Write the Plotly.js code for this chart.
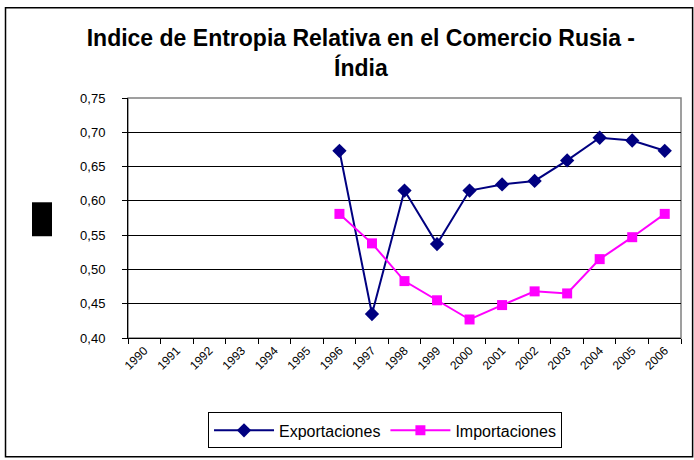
<!DOCTYPE html>
<html>
<head>
<meta charset="utf-8">
<script src="https://cdn.plot.ly/plotly-3.0.1.min.js"></script>
<style>html,body{margin:0;padding:0;background:#fff;}#chart{width:694px;height:460px;}</style>
</head>
<body>
<div id="chart"></div>
<script>
const years = ['1990','1991','1992','1993','1994','1995','1996','1997','1998','1999','2000','2001','2002','2003','2004','2005','2006'];
const dataYears = ['1996','1997','1998','1999','2000','2001','2002','2003','2004','2005','2006'];
const exportaciones = [0.673, 0.435, 0.615, 0.537, 0.615, 0.624, 0.629, 0.659, 0.692, 0.688, 0.673];
const importaciones = [0.581, 0.538, 0.483, 0.455, 0.427, 0.448, 0.468, 0.465, 0.515, 0.547, 0.581];
const yTicks = [0.40, 0.45, 0.50, 0.55, 0.60, 0.65, 0.70, 0.75];

const traces = [
  {x: dataYears, y: exportaciones, name: 'Exportaciones', type: 'scatter', mode: 'lines+markers',
   line: {color: '#000080', width: 2}, marker: {symbol: 'diamond', size: 11, color: '#000080'}},
  {x: dataYears, y: importaciones, name: 'Importaciones', type: 'scatter', mode: 'lines+markers',
   line: {color: '#FF00FF', width: 2}, marker: {symbol: 'square', size: 10, color: '#FF00FF'}}
];

const layout = {
  width: 694, height: 460,
  margin: {l: 128, r: 13, t: 97.5, b: 122},
  paper_bgcolor: '#fff', plot_bgcolor: '#fff',
  separators: ',.',
  font: {family: 'Liberation Sans, Arial, sans-serif', color: '#000'},
  title: {text: '<b>Indice de Entropia Relativa en el Comercio Rusia -<br>Índia</b>',
          font: {size: 23, family: 'Liberation Sans, Arial, sans-serif', color: '#000'},
          x: 0.52, xref: 'container', xanchor: 'center', y: 0.899, yref: 'container', yanchor: 'middle'},
  xaxis: {type: 'category', categoryorder: 'array', categoryarray: years, tickvals: years,
          range: [-0.5, 16.5], tickson: 'boundaries', ticks: 'outside', ticklen: 5, tickcolor: '#000',
          showline: true, linecolor: '#000', linewidth: 1, showgrid: false, zeroline: false,
          tickangle: -45, tickfont: {size: 12, color: '#000'}},
  yaxis: {range: [0.40, 0.75], tickvals: yTicks, tickformat: '.2f', ticks: 'outside', ticklen: 5,
          tickcolor: '#000', showline: true, linecolor: '#000', linewidth: 1,
          showgrid: true, gridcolor: '#000', gridwidth: 1, zeroline: false,
          tickfont: {size: 13, color: '#000'}, ticklabelstandoff: 14},
  showlegend: true,
  legend: {orientation: 'h', x: 0.1447, xanchor: 'left', y: -0.31, yanchor: 'top',
           bordercolor: '#000', borderwidth: 1, bgcolor: '#fff',
           font: {size: 16, color: '#000'}, itemwidth: 60, tracegroupgap: 0},
  shapes: [
    {type: 'rect', xref: 'paper', yref: 'paper', x0: 0, x1: 1, y0: 0, y1: 1,
     line: {color: '#808080', width: 1.5}, fillcolor: 'rgba(0,0,0,0)', layer: 'below'},
    {type: 'rect', xref: 'paper', yref: 'paper', x0: -0.2215, x1: 1.021, y0: -0.4948, y1: 1.376,
     line: {color: '#000', width: 1.5}, fillcolor: 'rgba(0,0,0,0)'},
    {type: 'rect', xref: 'paper', yref: 'paper', x0: -0.1736, x1: -0.1374, y0: 0.424, y1: 0.5655,
     line: {width: 0}, fillcolor: '#000'}
  ]
};

Plotly.newPlot('chart', traces, layout, {displayModeBar: false, staticPlot: true});
</script>
</body>
</html>
